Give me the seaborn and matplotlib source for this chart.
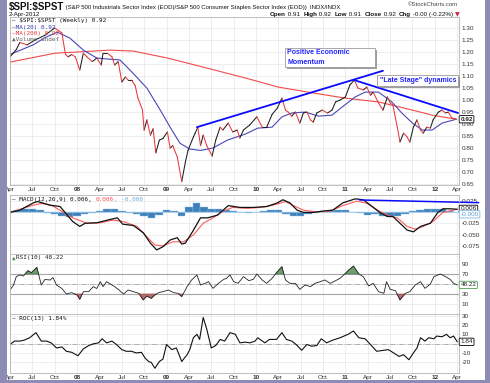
import numpy as np
import pandas as pd
import matplotlib
matplotlib.use('Agg')
import matplotlib.pyplot as plt
import matplotlib.patches as mpatches
import matplotlib.patheffects as pe
import seaborn as sns

# ---- data (dates as decimal years) ----
price_x = [2007.25, 2007.32, 2007.36, 2007.44, 2007.53, 2007.64, 2007.75, 2007.79, 2007.83, 2007.87,
           2007.90, 2007.94, 2007.98, 2008.03, 2008.07, 2008.11, 2008.17, 2008.22, 2008.27, 2008.29,
           2008.34, 2008.39, 2008.42, 2008.46, 2008.50, 2008.54, 2008.57, 2008.61, 2008.65, 2008.68,
           2008.73, 2008.75, 2008.78, 2008.82, 2008.85, 2008.88, 2008.92, 2008.96, 2009.01, 2009.04,
           2009.07, 2009.12, 2009.17, 2009.21, 2009.24, 2009.30, 2009.32, 2009.35, 2009.38, 2009.41,
           2009.45, 2009.51, 2009.55, 2009.60, 2009.63, 2009.69, 2009.74, 2009.79, 2009.82, 2009.86,
           2009.93, 2010.01, 2010.07, 2010.12, 2010.18, 2010.24, 2010.29, 2010.33, 2010.36, 2010.40,
           2010.44, 2010.49, 2010.53, 2010.57, 2010.61, 2010.64, 2010.68, 2010.74, 2010.80, 2010.85,
           2010.89, 2010.94, 2011.00, 2011.05, 2011.10, 2011.14, 2011.20, 2011.24, 2011.28, 2011.31,
           2011.37, 2011.42, 2011.47, 2011.50, 2011.53, 2011.58, 2011.61, 2011.65, 2011.69, 2011.72,
           2011.76, 2011.80, 2011.84, 2011.87, 2011.91, 2011.95, 2011.98, 2012.04, 2012.08, 2012.12,
           2012.15, 2012.19, 2012.24]
price_v = [1.18, 1.21, 1.24, 1.23, 1.25, 1.27, 1.30, 1.29, 1.28, 1.19,
           1.18, 1.19, 1.18, 1.125, 1.195, 1.18, 1.16, 1.175, 1.146, 1.195,
           1.195, 1.18, 1.146, 1.16, 1.075, 1.096, 1.083, 1.083, 1.06, 1.008,
           0.96, 0.875, 0.917, 0.854, 0.88, 0.78, 0.833, 0.84, 0.867, 0.80,
           0.81, 0.763, 0.66, 0.74, 0.79, 0.846, 0.862, 0.887, 0.81, 0.854,
           0.81, 0.767, 0.833, 0.887, 0.875, 0.904, 0.867, 0.875, 0.842, 0.875,
           0.896, 0.93, 0.887, 0.887, 0.94, 0.967, 1.008, 0.958, 0.95, 0.933,
           0.95, 0.904, 0.946, 0.95, 0.917, 0.908, 0.946, 0.958, 0.946, 0.958,
           0.992, 1.0, 1.013, 1.063, 1.083, 1.05, 1.042, 1.054, 1.02, 1.033,
           0.988, 0.958, 1.013, 0.988, 0.98, 0.887, 0.825, 0.862, 0.846, 0.825,
           0.887, 0.917, 0.875, 0.862, 0.887, 0.883, 0.917, 0.95, 0.958, 0.946,
           0.95, 0.925, 0.92]

ma20_x = [2007.25, 2007.51, 2007.64, 2007.78, 2007.92, 2008.07, 2008.22, 2008.37, 2008.48, 2008.63,
          2008.78, 2008.93, 2009.04, 2009.15, 2009.26, 2009.38, 2009.52, 2009.68, 2009.88, 2010.02,
          2010.18, 2010.29, 2010.40, 2010.55, 2010.70, 2010.85, 2010.96, 2011.11, 2011.22, 2011.37,
          2011.52, 2011.63, 2011.75, 2011.86, 2011.97, 2012.08, 2012.24]
ma20_v = [1.19, 1.23, 1.26, 1.283, 1.258, 1.208, 1.175, 1.17, 1.167, 1.11,
          1.05, 0.958, 0.887, 0.82, 0.796, 0.79, 0.80, 0.833, 0.858, 0.883,
          0.887, 0.93, 0.946, 0.95, 0.933, 0.937, 0.97, 1.013, 1.033, 1.033,
          0.992, 0.946, 0.904, 0.875, 0.875, 0.904, 0.92]

ma200_x = [2007.25, 2007.75, 2008.37, 2008.63, 2009.01, 2009.38, 2009.88, 2010.25, 2010.63, 2011.00,
           2011.37, 2011.75, 2011.97, 2012.24]
ma200_v = [1.158, 1.195, 1.208, 1.204, 1.175, 1.14, 1.092, 1.054, 1.03, 1.008,
           0.992, 0.958, 0.937, 0.92]

trend_up_x, trend_up_v = [2009.34, 2011.42], [0.887, 1.122]
trend_dn_x, trend_dn_v = [2011.10, 2012.26], [1.083, 0.946]

macd_x = [2007.25, 2007.36, 2007.51, 2007.56, 2007.70, 2007.81, 2007.89, 2007.95, 2008.03, 2008.09,
          2008.22, 2008.34, 2008.45, 2008.51, 2008.63, 2008.74, 2008.82, 2008.89, 2008.96, 2009.04,
          2009.12, 2009.17, 2009.21, 2009.29, 2009.38, 2009.46, 2009.57, 2009.69, 2009.82, 2009.97,
          2010.12, 2010.24, 2010.30, 2010.38, 2010.46, 2010.53, 2010.64, 2010.75, 2010.86, 2010.97,
          2011.11, 2011.20, 2011.28, 2011.39, 2011.47, 2011.53, 2011.61, 2011.69, 2011.76, 2011.84,
          2011.95, 2012.03, 2012.09, 2012.17, 2012.25]
macd_v = [-0.001, 0.004, 0.02, 0.023, 0.015, 0.012, -0.007, -0.021, -0.032, -0.025,
          -0.024, -0.018, -0.013, -0.027, -0.03, -0.046, -0.069, -0.084, -0.077, -0.062,
          -0.057, -0.071, -0.069, -0.044, -0.013, -0.013, -0.007, 0.014, 0.01, 0.01,
          0.012, 0.02, 0.027, 0.02, 0.004, -0.001, -0.001, 0.002, 0.004, 0.02,
          0.029, 0.027, 0.015, -0.002, -0.01, -0.01, -0.025, -0.04, -0.044, -0.032,
          -0.025, -0.002, 0.007, 0.007, 0.006]

signal_x = [2007.25, 2007.51, 2007.61, 2007.73, 2007.84, 2007.95, 2008.11, 2008.26, 2008.40, 2008.51,
            2008.67, 2008.78, 2008.87, 2008.96, 2009.07, 2009.19, 2009.30, 2009.41, 2009.52, 2009.63,
            2009.74, 2009.90, 2010.05, 2010.19, 2010.33, 2010.42, 2010.53, 2010.68, 2010.83, 2010.97,
            2011.13, 2011.24, 2011.36, 2011.47, 2011.58, 2011.69, 2011.78, 2011.87, 2011.98, 2012.09,
            2012.21, 2012.25]
signal_v = [-0.001, 0.015, 0.019, 0.013, 0.0, -0.013, -0.025, -0.024, -0.018, -0.021,
            -0.032, -0.055, -0.073, -0.075, -0.066, -0.066, -0.051, -0.025, -0.013, 0.002,
            0.01, 0.008, 0.01, 0.015, 0.023, 0.014, 0.004, 0.0, 0.002, 0.014,
            0.024, 0.019, 0.004, -0.007, -0.013, -0.032, -0.038, -0.032, -0.021, -0.001,
            0.004, 0.006]

# monthly histogram, Apr 2007 .. Apr 2012
hist_v = [0.002, 0.004, 0.006, 0.007, 0.004, -0.002, -0.004, -0.008, -0.012, -0.010,
          -0.005, -0.002, 0.002, 0.006, 0.006, 0.002, -0.002, -0.005, -0.010, -0.014,
          -0.006, 0.004, 0.002, -0.008, 0.010, 0.019, 0.012, 0.007, 0.006, 0.004,
          0.002, -0.001, -0.002, -0.001, 0.002, 0.004, 0.005, -0.004, -0.010, -0.008,
          -0.004, -0.002, 0.001, 0.003, 0.004, 0.004, 0.001, -0.003, -0.006, -0.005,
          -0.008, -0.012, -0.010, -0.004, 0.003, 0.005, 0.006, 0.007, 0.006, 0.003,
          0.001]
macd_trend_x, macd_trend_v = [2011.16, 2012.49], [0.0265, 0.0206]

rsi_x = [2007.25, 2007.29, 2007.32, 2007.36, 2007.40, 2007.45, 2007.49, 2007.55, 2007.60, 2007.64,
         2007.70, 2007.73, 2007.77, 2007.83, 2007.88, 2007.94, 2008.00, 2008.03, 2008.07, 2008.13,
         2008.18, 2008.22, 2008.26, 2008.29, 2008.33, 2008.39, 2008.42, 2008.46, 2008.52, 2008.57,
         2008.63, 2008.69, 2008.74, 2008.78, 2008.83, 2008.87, 2008.91, 2008.96, 2009.02, 2009.08,
         2009.13, 2009.17, 2009.23, 2009.28, 2009.34, 2009.38, 2009.43, 2009.47, 2009.52, 2009.58,
         2009.64, 2009.67, 2009.71, 2009.75, 2009.80, 2009.86, 2009.92, 2009.97, 2010.01, 2010.07,
         2010.12, 2010.18, 2010.23, 2010.29, 2010.33, 2010.38, 2010.44, 2010.49, 2010.55, 2010.61,
         2010.66, 2010.72, 2010.77, 2010.83, 2010.89, 2010.94, 2011.00, 2011.03, 2011.09, 2011.15,
         2011.20, 2011.26, 2011.31, 2011.37, 2011.43, 2011.46, 2011.50, 2011.56, 2011.61, 2011.67,
         2011.72, 2011.78, 2011.84, 2011.89, 2011.95, 2011.99, 2012.06, 2012.12, 2012.17, 2012.21,
         2012.25]
rsi_v = [38, 48, 64.7, 68, 66, 76.7, 72.7, 83.3, 48, 59,
         58, 63, 48, 41, 30, 32.7, 28, 19.3, 34.7, 34.7,
         44.7, 41, 54.7, 44.7, 54.7, 48, 44.7, 39.3, 30, 38,
         34.7, 31.3, 18, 26, 21.3, 28, 32.7, 34.7, 38, 32.7,
         31.3, 24.7, 44.7, 58, 68, 48, 51.3, 54.7, 41.3, 51.3,
         59.3, 61.3, 68, 54.7, 51.3, 64.7, 56.7, 59.3, 70, 58,
         51.3, 61.3, 72.7, 84.7, 58, 51.3, 51.3, 39.3, 48, 44.7,
         51.3, 54.7, 58, 51.3, 56.7, 61.3, 71.3, 76.7, 86, 70,
         64.7, 46, 51.3, 34.7, 31.3, 54.7, 39.3, 36.7, 18, 31.3,
         34.7, 48, 54.7, 41.3, 50, 64.7, 70, 64.7, 59.3, 51.3,
         48.22]

roc_x = [2007.25, 2007.30, 2007.36, 2007.41, 2007.47, 2007.54, 2007.60, 2007.66, 2007.71, 2007.77,
         2007.83, 2007.88, 2007.94, 2008.01, 2008.07, 2008.13, 2008.18, 2008.24, 2008.28, 2008.33,
         2008.39, 2008.44, 2008.50, 2008.55, 2008.61, 2008.66, 2008.72, 2008.76, 2008.80, 2008.83,
         2008.87, 2008.92, 2008.96, 2009.00, 2009.06, 2009.11, 2009.17, 2009.23, 2009.26, 2009.30,
         2009.34, 2009.37, 2009.41, 2009.45, 2009.50, 2009.55, 2009.60, 2009.65, 2009.71, 2009.77,
         2009.82, 2009.88, 2009.93, 2009.99, 2010.02, 2010.10, 2010.15, 2010.23, 2010.29, 2010.34,
         2010.40, 2010.45, 2010.51, 2010.57, 2010.62, 2010.68, 2010.73, 2010.79, 2010.86, 2010.94,
         2011.03, 2011.09, 2011.15, 2011.22, 2011.28, 2011.35, 2011.43, 2011.48, 2011.54, 2011.60,
         2011.65, 2011.71, 2011.76, 2011.80, 2011.84, 2011.89, 2011.93, 2011.99, 2012.02, 2012.08,
         2012.13, 2012.17, 2012.21, 2012.25]
roc_v = [-1.1, 2.6, 2.6, 3.7, 6.2, 11.7, 2.6, 2.6, 0.7, -4.8,
         -3.7, -8.4, -9.5, -13.2, -5.8, -2.2, -0.4, 0.7, 5.1, 0.7,
         2.6, -1.1, -6.6, -8.4, -8.4, -10.2, -9.5, -15.7, -19.4, -20.5,
         -26.7, -19.4, -16.8, -1.1, -6.6, -4.8, -19.4, -12.1, -6.6, 6.2,
         9.9, 4.4, 28.1, 15.4, -4.8, -2.2, 4.4, 2.6, 11.7, 9.9,
         0.7, 1.5, 0.7, 2.6, 6.2, 0.7, 4.4, 4.4, 11.7, 4.4,
         2.6, -1.1, -7.3, -1.1, -2.9, -2.2, 5.1, 0.7, 3.7, 6.2,
         9.9, 13.5, 6.2, 5.1, -1.1, -8.4, -7.3, -6.6, -10.2, -13.9,
         -12.1, -17.5, -10.2, -4.8, 6.2, 2.6, 6.2, 5.1, 8.0, 7.3,
         9.9, 6.2, 8.0, 1.84]

tick_labels = ['Apr', 'Jul', 'Oct', '08', 'Apr', 'Jul', 'Oct', '09', 'Apr', 'Jul', 'Oct',
               '10', 'Apr', 'Jul', 'Oct', '11', 'Apr', 'Jul', 'Oct', '12', 'Apr']

# ---- figure ----
W, H = 490, 383
sns.set_style('white')
plt.rcParams['font.family'] = ['Liberation Sans', 'DejaVu Sans']

fig = plt.figure(figsize=(W / 100, H / 100), dpi=100)
X0, X1 = 2007.25, 2012.27
quarters = [2007.25 + 0.25 * i for i in range(21)]


def panel(top, bottom):
    return fig.add_axes([10 / W, 1 - bottom / H, 449 / W, (bottom - top) / H])


def style(ax, ylim, yticks, ylabels, xlabels=False):
    ax.set_xlim(X0, X1)
    ax.set_ylim(*ylim)
    ax.set_xticks(quarters)
    ax.set_yticks(yticks)
    ax.set_yticklabels(ylabels)
    ax.yaxis.tick_right()
    ax.tick_params(length=0, labelsize=4.6, pad=2, colors='#333333')
    ax.grid(True, color='#e6e6e6', lw=0.5)
    ax.set_axisbelow(True)
    for s in ax.spines.values():
        s.set_color('#b4b4b4')
        s.set_linewidth(0.6)
    ax.set_xlabel('')
    ax.set_ylabel('')
    if xlabels:
        ax.set_xticklabels(tick_labels)
        for lab in ax.get_xticklabels():
            if lab.get_text().isdigit():
                lab.set_fontweight('bold')
    else:
        ax.tick_params(labelbottom=False)


def value_box(ax, y, s, ec='black', fc='white', bold=False, color='#222222'):
    ax.text(1.003, y, s, transform=ax.get_yaxis_transform(), ha='left', va='center',
            fontsize=4.6, color=color, fontweight='bold' if bold else 'normal', clip_on=False,
            bbox=dict(boxstyle='round,pad=0.18,rounding_size=0.15', fc=fc, ec=ec, lw=0.6), zorder=5)


def fig_text(x, y, s, **kw):
    return fig.text(x / W, 1 - y / H, s, va='center', **kw)


def text_run(x, y, pieces, **kw):
    r = fig.canvas.get_renderer()
    for s, props in pieces:
        opts = dict(kw)
        opts.update(props)
        t = fig_text(x, y, s, ha='left', **opts)
        x += t.get_window_extent(renderer=r).width


# main price panel
ax1 = panel(17, 185)
sns.lineplot(x=ma200_x, y=ma200_v, ax=ax1, color='#f24a4a', lw=0.8, estimator=None, sort=False)
sns.lineplot(x=ma20_x, y=ma20_v, ax=ax1, color='#4848b8', lw=0.8, estimator=None, sort=False)
rows = []
for i in range(len(price_x) - 1):
    d = 'up' if price_v[i + 1] >= price_v[i] else 'down'
    rows += [(i, price_x[i], price_v[i], d), (i, price_x[i + 1], price_v[i + 1], d)]
seg = pd.DataFrame(rows, columns=['seg', 'date', 'value', 'dir'])
sns.lineplot(data=seg, x='date', y='value', units='seg', hue='dir', estimator=None, sort=False,
             palette={'up': '#1e1e1e', 'down': '#e8383c'}, legend=False, lw=0.75, ax=ax1)
sns.lineplot(x=trend_up_x, y=trend_up_v, ax=ax1, color='#0a0aff', lw=1.3, estimator=None)
sns.lineplot(x=trend_dn_x, y=trend_dn_v, ax=ax1, color='#0a0aff', lw=1.3, estimator=None)
yt = [0.65 + 0.05 * i for i in range(14)]
style(ax1, (0.646, 1.346), yt, ['%.2f' % v for v in yt], xlabels=True)
ax1.tick_params(axis='x', pad=1.5)
value_box(ax1, price_v[-1], '0.92', bold=True)

# MACD panel
ax2 = panel(195, 254)
hist_dates = pd.date_range('2007-04-01', '2012-04-01', freq='MS')
hist_x = hist_dates.year + (hist_dates.month - 1) / 12
ax2.bar(hist_x, hist_v, width=1 / 12, color='#3f80ba', edgecolor='#8cbfe6', lw=0.3, zorder=2)
ax2.axhline(0, color='#9cc8ea', lw=0.5, zorder=2)
sns.lineplot(x=signal_x, y=signal_v, ax=ax2, color='#ff5a5a', lw=0.8, estimator=None, sort=False)
sns.lineplot(x=macd_x, y=macd_v, ax=ax2, color='#111111', lw=0.9, estimator=None, sort=False)
sns.lineplot(x=macd_trend_x, y=macd_trend_v, ax=ax2, color='#0a0aff', lw=1.1, estimator=None,
             clip_on=False)
style(ax2, (-0.093, 0.0375), [0.025, 0, -0.025, -0.05, -0.075],
      ['0.025', '', '-0.025', '-0.050', '-0.075'])
value_box(ax2, 0.0068, '0.006')
value_box(ax2, -0.0052, '-0.000', ec='#7fb4e0', color='#5a9ad0')

# RSI panel
ax3 = panel(254, 314)
ax3.fill_between(rsi_x, rsi_v, 70, where=[v > 70 for v in rsi_v], interpolate=True,
                 color='#6f9f6f', edgecolor='#3c6e3c', lw=0.4, zorder=2)
ax3.fill_between(rsi_x, rsi_v, 30, where=[v < 30 for v in rsi_v], interpolate=True,
                 color='#b96c6c', edgecolor='#7a3a3a', lw=0.4, zorder=2)
ax3.axhline(70, color='#a6a6a6', lw=0.8, zorder=1)
ax3.axhline(30, color='#a6a6a6', lw=0.8, zorder=1)
ax3.axhline(50, color='#a6a6a6', lw=0.6, ls='-.', zorder=1)
sns.lineplot(x=rsi_x, y=rsi_v, ax=ax3, color='#222222', lw=0.6, estimator=None, sort=False)
style(ax3, (-10, 110), [90, 70, 50, 30, 10], ['90', '70', '', '30', '10'])
value_box(ax3, 48.22, '48.22', ec='#4f9a4f')

# ROC panel
ax4 = panel(314, 373)
ax4.axhline(0, color='#a6a6a6', lw=0.6, ls='-.', zorder=1)
sns.lineplot(x=roc_x, y=roc_v, ax=ax4, color='#111111', lw=0.8, estimator=None, sort=False)
style(ax4, (-31.8, 31.8), [30, 20, 10, 0, -10, -20], ['30', '20', '10', '', '-10', '-20'],
      xlabels=True)
ax4.tick_params(axis='x', pad=1.5)
value_box(ax4, 1.84, '1.84')

# frame
frame = '#8c8cb4'
for rect in ([0, 0, 7 / W, 1], [0, 0, 1, 3 / H], [485 / W, 0, 5 / W, 1]):
    fig.patches.append(mpatches.Rectangle(rect[:2], rect[2], rect[3], transform=fig.transFigure,
                                          fc=frame, ec='none', zorder=0))

# header
text_run(9, 7, [(r'\$SPI:\$SPST', dict(fontsize=7, fontweight='bold')),
                (' (S&P 500 Industrials Sector Index (EOD)/S&P 500 Consumer Staples Sector Index (EOD))'
                 '  INDX/INDX', dict(fontsize=4.3))], color='#111111')
fig_text(458, 5, '\u00a9StockCharts.com', ha='right', fontsize=4.3, color='#444444')
fig_text(9, 14.5, '2-Apr-2012', ha='left', fontsize=4.5, color='#111111')
text_run(270, 14.5, [('Open', dict(fontweight='bold')), (' 0.91  ', {}), ('High', dict(fontweight='bold')),
                     (' 0.92  ', {}), ('Low', dict(fontweight='bold')), (' 0.91  ', {}),
                     ('Close', dict(fontweight='bold')), (' 0.92  ', {}), ('Chg', dict(fontweight='bold')),
                     (' -0.00 (-0.22%) ', {}), ('\u25bc', dict(color='#cc2244', family='DejaVu Sans'))],
         fontsize=4.5, color='#111111')

# panel legends
mono = dict(family='DejaVu Sans Mono', fontsize=4.3)
fig_text(12, 20.5, '\u2014 \\$SPI:\\$SPST (Weekly) 0.92', ha='left', color='#111111', **mono)
fig_text(12, 27, '\u2014MA(20) 0.92', ha='left', color='#3a3ab0', **mono)
fig_text(12, 33, '\u2014MA(200) 0.92', ha='left', color='#e83a3a', **mono)
fig_text(12, 39, '\u25b2Volume undef', ha='left', color='#666666', **mono)
text_run(12, 199.5, [('\u2014 MACD(12,26,9) 0.006, ', dict(color='#111111')),
                     ('0.006', dict(color='#ff4a4a')), (', -0.000', dict(color='#6aaae0'))], **mono)
text_run(12, 258, [('\u25b2', dict(color='#4f8a4f')), ('RSI(10) 48.22', dict(color='#222222'))], **mono)
fig_text(12, 318.5, '\u2014 ROC(13) 1.84%', ha='left', color='#111111', **mono)

# annotation boxes
for (x0, y0, x1, y1) in [(285, 48, 375, 67), (377, 75, 458, 86)]:
    r = mpatches.Rectangle((x0 / W, 1 - y1 / H), (x1 - x0) / W, (y1 - y0) / H,
                           transform=fig.transFigure, fc='white', ec='#9a9a9a', lw=0.6, zorder=6,
                           path_effects=[pe.SimplePatchShadow(offset=(1.2, -1.2), shadow_rgbFace='#777777',
                                                              alpha=0.7), pe.Normal()])
    fig.patches.append(r)
blue = dict(ha='left', fontsize=5, fontweight='bold', color='#2222ff', zorder=7)
fig_text(287, 53, 'Positive Economic', **blue)
fig_text(287, 62, 'Momentum', **blue)
fig_text(380, 80.5, '"Late Stage" dynamics', **blue)

fig.savefig('out.png', dpi=100)
